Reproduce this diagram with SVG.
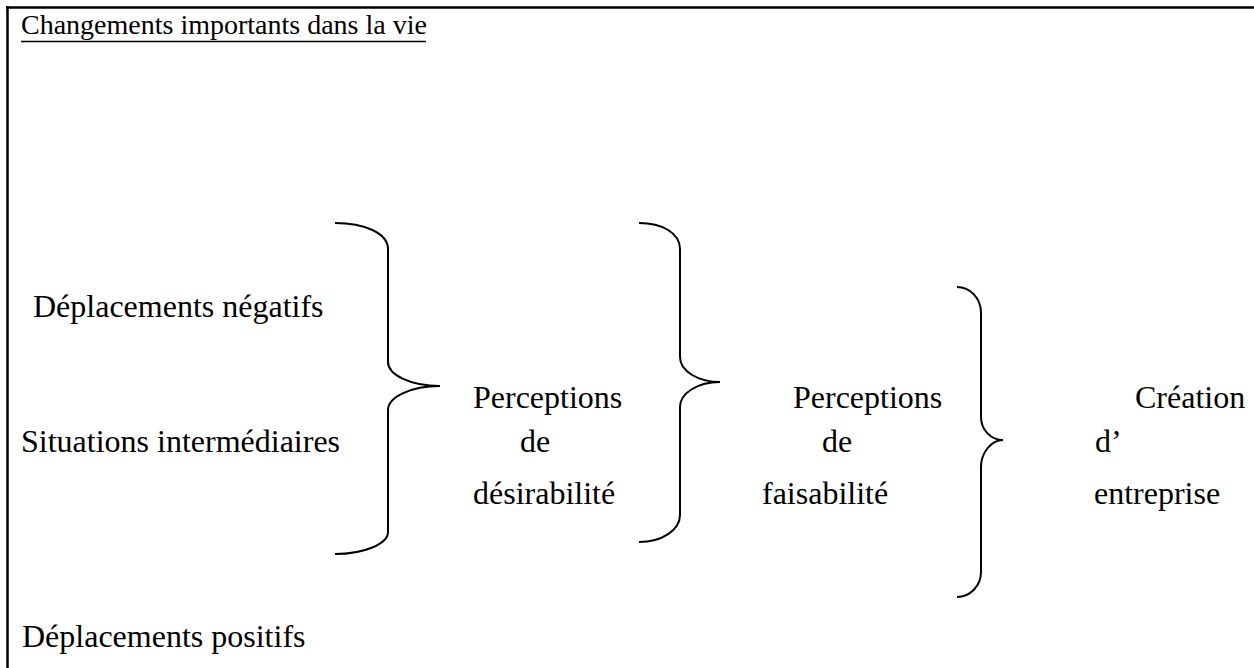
<svg xmlns="http://www.w3.org/2000/svg" width="1254" height="668" viewBox="0 0 1254 668">
<style>
  text { font-family: "Liberation Serif", "Times New Roman", serif; font-size: 32px; fill: #000; }
  .title { font-size: 28px; }
  .brace { fill: none; stroke: #000; stroke-width: 2; }
  .border { stroke: #000; stroke-width: 2.5; }
</style>
<rect x="0" y="0" width="1254" height="668" fill="#fff"/>
<g id="frame">
  <line class="border" x1="6" y1="7.5" x2="1254" y2="7.5"/>
  <line class="border" x1="7.5" y1="6" x2="7.5" y2="668"/>
</g>
<g id="title">
  <text class="title" x="21" y="34">Changements importants dans la vie</text>
  <line x1="21" y1="41.5" x2="426" y2="41.5" stroke="#000" stroke-width="1.5"/>
</g>
<g id="node-deplacements-negatifs">
  <text x="33" y="317">Déplacements négatifs</text>
</g>
<g id="node-situations-intermediaires">
  <text x="21" y="452">Situations intermédiaires</text>
</g>
<g id="node-deplacements-positifs">
  <text x="22" y="647">Déplacements positifs</text>
</g>
<g id="node-perceptions-desirabilite">
  <text x="473" y="408">Perceptions</text>
  <text x="520" y="452">de</text>
  <text x="473" y="504">désirabilité</text>
</g>
<g id="node-perceptions-faisabilite">
  <text x="793" y="408">Perceptions</text>
  <text x="822" y="452">de</text>
  <text x="762" y="504">faisabilité</text>
</g>
<g id="node-creation-entreprise">
  <text x="1135" y="408">Création</text>
  <text x="1095" y="452">d’</text>
  <text x="1094" y="504">entreprise</text>
</g>
<g id="connectors">
  <path class="brace" d="M335,223 C364,223 388,233 388,249 L388,362 C388,375 411,386 440,386 C411,386 388,397 388,410 L388,532 C388,544 364,554 335,554"/>
  <path class="brace" d="M639,223 C662,223 680,233 680,249 L680,357 C680,371 698,382 720,382 C698,382 680,393 680,407 L680,515 C680,530 662,542 639,542"/>
  <path class="brace" d="M957,287 C970,287 981,298 981,313 L981,417 C981,430 991,440 1003,440 C991,440 981,453 981,467 L981,572 C981,586 970,597 957,597"/>
</g>
</svg>
